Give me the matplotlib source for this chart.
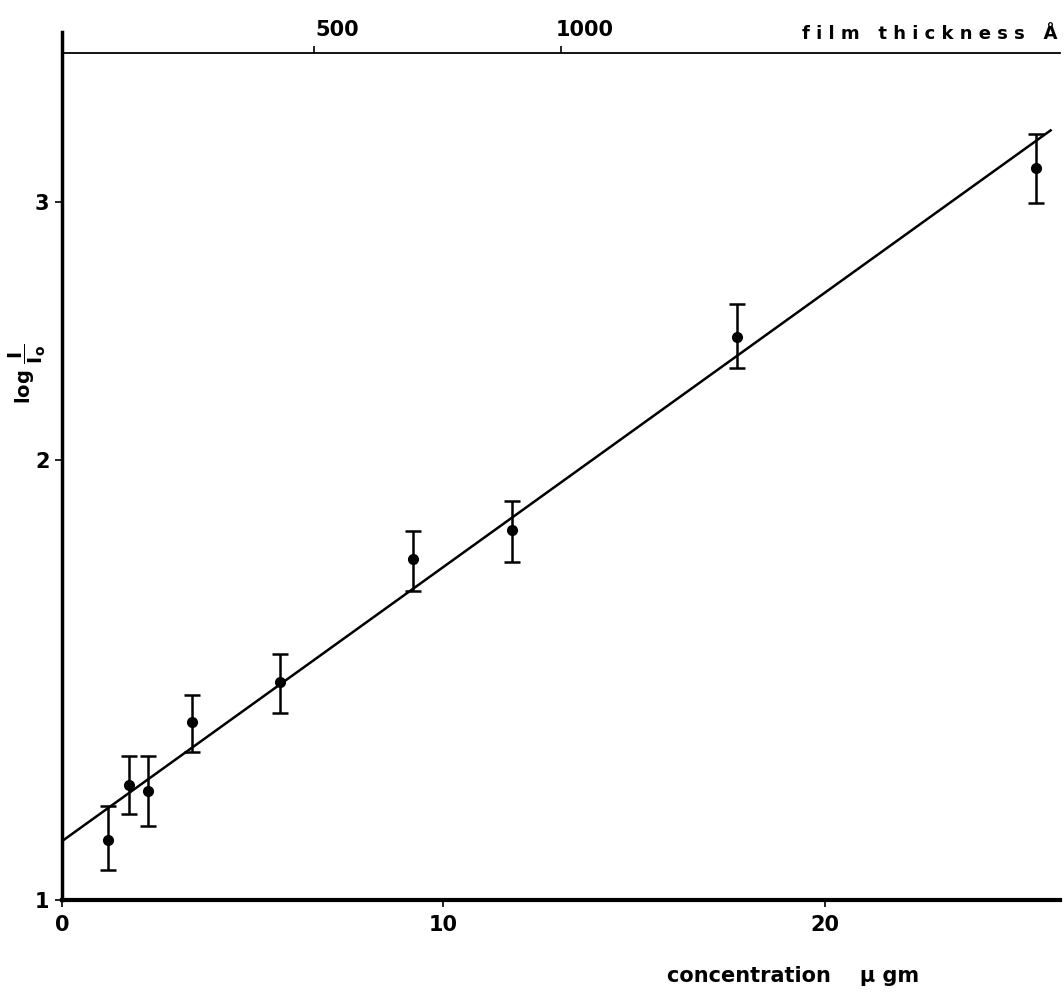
import numpy as np
import matplotlib.pyplot as plt
from matplotlib.transforms import ScaledTranslation

# ==============================================================
# data
conc = [1.20, 1.76, 2.26, 3.40, 5.71, 9.19, 11.79, 17.69, 25.55]   # ug
ratio = [1.099, 1.198, 1.187, 1.324, 1.410, 1.709, 1.789, 2.426, 3.166]
ratio_hi = [1.160, 1.255, 1.255, 1.381, 1.473, 1.788, 1.873, 2.553, 3.337]
ratio_lo = [1.048, 1.145, 1.124, 1.263, 1.343, 1.625, 1.702, 2.308, 2.996]

fit_conc = [0.0, 25.92]
fit_ratio = [1.097, 3.357]

conc_ticks = [0, 10, 20]
ratio_ticks = [1, 2, 3]
thick_ticks = [500, 1000]

# film thickness (A) vs concentration (ug) for the top scale
A_PER_UG = 77.3
UG_OFFSET = 0.14

# ==============================================================
# Visualization
FIGWIDTH = 10.64
FIGHEIGHT = 9.96
TICKSFONT = 15
TEXTFONT = 13
plt.rcParams['font.family'] = ['Liberation Sans Narrow', 'DejaVu Sans']
plt.rcParams['font.weight'] = 'bold'

f = plt.figure(figsize=(FIGWIDTH, FIGHEIGHT), dpi=100)
ax = f.add_axes([0.0583, 0.0964, 0.9377, 0.8716])

err = [np.array(ratio) - np.array(ratio_lo), np.array(ratio_hi) - np.array(ratio)]
ax.errorbar(conc, ratio, yerr=err, fmt='o', color='black', ms=7,
            elinewidth=1.8, capsize=6, capthick=1.8)
ax.plot(fit_conc, fit_ratio, color='black', lw=1.8)

ax.set_yscale('log')
ax.set_xlim(0, 26.16)
ax.set_ylim(1, 3.92)
ax.set_xticks(conc_ticks)
ax.set_xticklabels([str(t) for t in conc_ticks])
ax.set_yticks(ratio_ticks)
ax.set_yticklabels([str(t) for t in ratio_ticks])
ax.yaxis.set_minor_locator(plt.NullLocator())
ax.tick_params(axis='both', labelsize=TICKSFONT, length=5, width=1.2, direction='out')
ax.tick_params(axis='y', pad=4)
ax.tick_params(axis='x', pad=6)

for s in ['top', 'right']:
    ax.spines[s].set_visible(False)
ax.spines['left'].set_linewidth(2.5)
ax.spines['bottom'].set_linewidth(3)

# top scale: film thickness
top = ax.secondary_xaxis(0.976, functions=(lambda c: (c - UG_OFFSET) * A_PER_UG,
                                           lambda t: t / A_PER_UG + UG_OFFSET))
top.set_xticks(thick_ticks)
top.set_xticklabels([str(t) for t in thick_ticks])
top.tick_params(labelsize=TICKSFONT, length=5, width=1.2, direction='out', pad=4)
top.spines['top'].set_linewidth(1.3)
shift = ScaledTranslation(17 / 72, 0, f.dpi_scale_trans)
for lab in top.get_xticklabels():
    lab.set_transform(lab.get_transform() + shift)

f.text(0.994, 0.966, 'f i l m   t h i c k n e s s   Å', ha='right', va='center',
       fontsize=TEXTFONT)
f.text(0.745, 0.02, 'concentration    µ gm', ha='center', va='center',
       fontsize=TEXTFONT + 2)
f.text(0.026, 0.625, r'log $\dfrac{\mathbf{I}}{\mathbf{I}_{\mathbf{o}}}$', rotation=90,
       ha='center', va='center', fontsize=TEXTFONT + 1)

f.savefig("out.png", dpi=100)
